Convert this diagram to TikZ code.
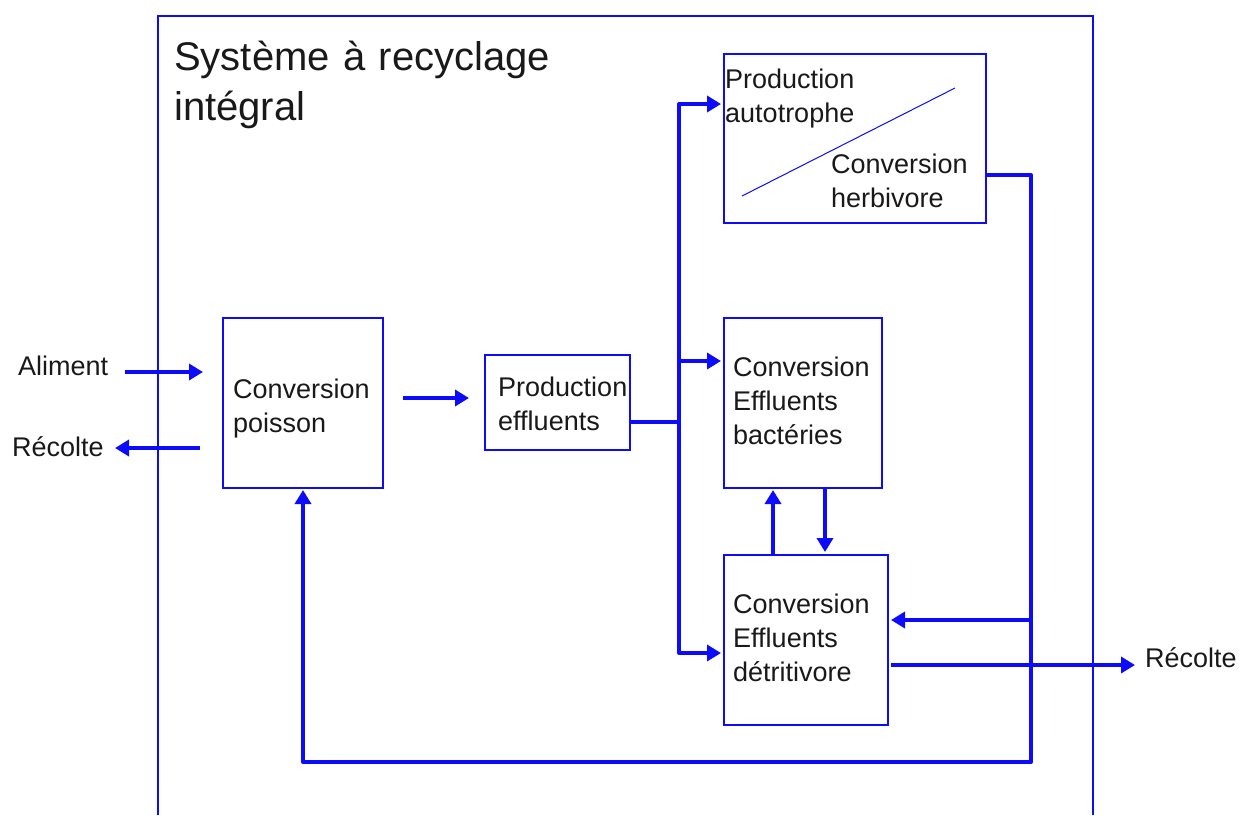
\documentclass[tikz,border=0pt]{standalone}
\usepackage{fontspec}
\setmainfont{Liberation Sans}
\usetikzlibrary{arrows.meta}
\definecolor{fb}{RGB}{12,12,250}
\definecolor{tx}{RGB}{25,25,25}
\begin{document}
\begin{tikzpicture}[x=1pt,y=-1pt,
  box/.style={draw=fb, line width=2pt, inner sep=0pt, anchor=north west, fill=white},
  frame/.style={draw=fb, line width=1.6pt},
  flowline/.style={draw=fb, line width=4pt, line join=round},
  flow/.style={flowline, -{Triangle[length=14pt,width=16pt]}},
  txt/.style={anchor=base west, inner sep=0pt, text=tx, align=left, text width=#1,
    font=\fontsize{27}{34}\selectfont},
  txt/.default=170pt]
\useasboundingbox (0,0) rectangle (1239,815);
% outer frame (open at the bottom)
\draw[frame] (158,815) -- (158,16) -- (1093,16) -- (1093,815);
\node[txt=420pt, font=\fontsize{40}{50}\selectfont] (title) at (174,70) {Système à recyclage\\intégral};
% boxes
\node[box, minimum width=160pt, minimum height=170pt] (poisson) at (222,317) {};
\node[box, minimum width=145pt, minimum height=95pt] (effl) at (484,354) {};
\node[box, minimum width=262pt, minimum height=169pt] (auto) at (723,53) {};
\node[box, minimum width=158pt, minimum height=170pt] (bact) at (723,317) {};
\node[box, minimum width=164pt, minimum height=170pt] (detr) at (723,554) {};
\draw[fb, line width=1pt] (742,196) -- (955,88);
% texts
\node[txt] (tpoisson) at (233,398) {Conversion\\poisson};
\node[txt] (teffl) at (498,396) {Production\\effluents};
\node[txt] (tauto) at (725,88) {Production\\autotrophe};
\node[txt] (therb) at (831,173) {Conversion\\herbivore};
\node[txt] (tbact) at (733,376) {Conversion\\Effluents\\bactéries};
\node[txt] (tdetr) at (733,613) {Conversion\\Effluents\\détritivore};
\node[txt=100pt] (aliment) at (18,375) {Aliment};
\node[txt=100pt] (recL) at (12,456) {Récolte};
\node[txt=100pt] (recR) at (1145,667) {Récolte};
% coordinates for connector corners
\coordinate (al) at (125,372);
\coordinate (rl) at (115,448);
\coordinate (pe) at (0,398);
\coordinate (tr) at (679,422);
\coordinate (trt) at (679,104);
\coordinate (trm) at (679,361);
\coordinate (trb) at (679,653);
\coordinate (rr) at (1031,175);
\coordinate (rd) at (1031,620);
\coordinate (rb) at (1031,762);
\coordinate (rh) at (1135,665);
\coordinate (ux) at (773,0);
\coordinate (dx) at (825,0);
% connectors
\draw[flow, shorten >=19pt] (al) -- (al -| poisson.west);
\draw[flow, shorten <=22pt] (rl -| poisson.west) -- (rl);
\draw[flow, shorten <=19pt, shorten >=15pt] (pe -| poisson.east) -- (pe -| effl.west);
\draw[flowline] (tr -| effl.east) -- (tr);
\draw[flow, shorten >=2pt] (trm) -- (trt) -- (trt -| auto.west);
\draw[flow, shorten >=2pt] (trm) -- (trb) -- (trb -| detr.west);
\draw[flow, shorten >=2pt] (trm) -- (trm -| bact.west);
\draw[flow, shorten >=1pt] (rr -| auto.east) -- (rr) -- (rb) -- (rb -| poisson.south) -- (poisson.south);
\draw[flow, shorten >=2pt] (rd) -- (rd -| detr.east);
\draw[flow, shorten <=2pt] (rh -| detr.east) -- (rh);
\draw[flow, shorten >=1pt] (ux |- detr.north) -- (ux |- bact.south);
\draw[flow, shorten >=2pt] (dx |- bact.south) -- (dx |- detr.north);
\end{tikzpicture}
\end{document}
